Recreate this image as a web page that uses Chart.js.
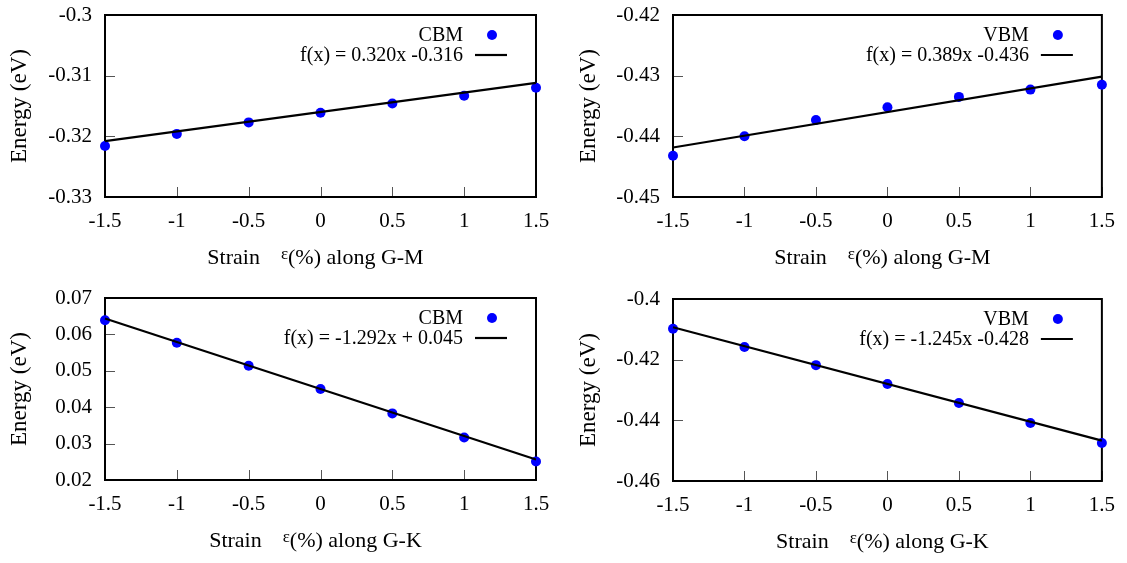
<!DOCTYPE html>
<html>
<head>
<meta charset="utf-8">
<script src="https://cdn.jsdelivr.net/npm/chart.js@4.4.1/dist/chart.umd.min.js"></script>
<style>
  html, body { margin: 0; padding: 0; background: #fff; }
  #wrap { position: relative; width: 1127px; height: 563px; overflow: hidden; }
  #wrap canvas { position: absolute; }
</style>
</head>
<body>
<div id="wrap">
  <canvas id="cbmGM"></canvas>
  <canvas id="vbmGM"></canvas>
  <canvas id="cbmGK"></canvas>
  <canvas id="vbmGK"></canvas>
</div>
<script>
// strain values (%) shared by every panel
const strain = [-1.5, -1, -0.5, 0, 0.5, 1, 1.5];
const xTicks = [-1.5, -1, -0.5, 0, 0.5, 1, 1.5];

// band edge energies (eV)
const cbmGM = [-0.3216, -0.3196, -0.3177, -0.3161, -0.3146, -0.3133, -0.3120];
const vbmGM = [-0.4432, -0.4400, -0.4373, -0.4352, -0.4335, -0.4323, -0.4315];
const cbmGK = [0.0639, 0.0577, 0.0514, 0.0450, 0.0383, 0.0317, 0.0251];
const vbmGK = [-0.4098, -0.4158, -0.4218, -0.4280, -0.4343, -0.4409, -0.4475];

// linear fits f(x) = a*x + b, x being the strain as a fraction
const fitSlopes = [0.320, 0.389, -1.292, -1.245];
const fitIntercepts = [-0.316, -0.436, 0.045, -0.428];

const yTicksCbmGM = [-0.33, -0.32, -0.31, -0.3];
const yTicksVbmGM = [-0.45, -0.44, -0.43, -0.42];
const yTicksCbmGK = [0.02, 0.03, 0.04, 0.05, 0.06, 0.07];
const yTicksVbmGK = [-0.46, -0.44, -0.42, -0.4];

// x axis titles: text before the symbol, the symbol, text after it
const xTitleGM = ['Strain', '\u03b5', '(%) along G-M'];
const xTitleGK = ['Strain', '\u03b5', '(%) along G-K'];
const yTitle = 'Energy (eV)';

const FONT = "'Liberation Serif', 'Times New Roman', serif";

function fitLabel(a, b) {
  const sign = b < 0 ? '-' + Math.abs(b).toFixed(3) : '+ ' + b.toFixed(3);
  return 'f(x) = ' + a.toFixed(3) + 'x ' + sign;
}

// frame around the plot area plus short inward ticks on left/bottom
const framePlugin = {
  id: 'frame',
  beforeDatasetsDraw(chart) {
    const { ctx, chartArea: a, scales } = chart;
    ctx.save();
    ctx.strokeStyle = '#555';
    ctx.lineWidth = 1;
    scales.y.ticks.forEach(t => {
      const py = Math.round(scales.y.getPixelForValue(t.value)) + 0.5;
      ctx.beginPath();
      ctx.moveTo(a.left, py);
      ctx.lineTo(a.left + 10, py);
      ctx.stroke();
    });
    scales.x.ticks.forEach(t => {
      const px = Math.round(scales.x.getPixelForValue(t.value)) + 0.5;
      ctx.beginPath();
      ctx.moveTo(px, a.bottom);
      ctx.lineTo(px, a.bottom - 10);
      ctx.stroke();
    });
    ctx.strokeStyle = '#000';
    ctx.lineWidth = 2;
    ctx.strokeRect(a.left, a.top, a.right - a.left, a.bottom - a.top);
    ctx.restore();
  }
};

// x title with a smaller, raised epsilon
const xTitlePlugin = {
  id: 'xTitle',
  afterDraw(chart, args, opts) {
    const { ctx, chartArea: a } = chart;
    const [pre, sym, post] = opts.parts;
    const big = '22px ' + FONT;
    const small = '17px ' + FONT;
    const gap = 21;
    ctx.save();
    ctx.fillStyle = '#000';
    ctx.textAlign = 'left';
    ctx.textBaseline = 'alphabetic';
    ctx.font = big;
    const w1 = ctx.measureText(pre).width;
    const w3 = ctx.measureText(post).width;
    ctx.font = small;
    const w2 = ctx.measureText(sym).width;
    let x = (a.left + a.right) / 2 - 5 - (w1 + gap + w2 + w3) / 2;
    const y = a.bottom + 66.5;
    ctx.font = big;
    ctx.fillText(pre, x, y);
    x += w1 + gap;
    ctx.font = small;
    ctx.fillText(sym, x, y - 5);
    x += w2;
    ctx.font = big;
    ctx.fillText(post, x, y);
    ctx.restore();
  }
};

// key in the upper right corner: text right-aligned, sample to its right
const keyPlugin = {
  id: 'key',
  afterDatasetsDraw(chart) {
    const { ctx, chartArea: a } = chart;
    const ds = chart.data.datasets;
    ctx.save();
    ctx.font = '20px ' + FONT;
    ctx.fillStyle = '#000';
    ctx.textAlign = 'right';
    ctx.textBaseline = 'middle';
    ds.forEach((d, i) => {
      const y = a.top + 20 + i * 20;
      ctx.fillText(d.label, a.right - 73, y + 1);
      if (d.showLine) {
        ctx.strokeStyle = '#000';
        ctx.lineWidth = 2.2;
        ctx.beginPath();
        ctx.moveTo(a.right - 61, y);
        ctx.lineTo(a.right - 29, y);
        ctx.stroke();
      } else {
        ctx.fillStyle = d.backgroundColor;
        ctx.beginPath();
        ctx.arc(a.right - 44, y, 5, 0, Math.PI * 2);
        ctx.fill();
        ctx.fillStyle = '#000';
      }
    });
    ctx.restore();
  }
};

function makePanel(id, box, values, name, fitIdx, yTicks, xTitle) {
  const canvas = document.getElementById(id);
  canvas.width = box.w;
  canvas.height = box.h;
  canvas.style.left = box.x + 'px';
  canvas.style.top = box.y + 'px';
  canvas.style.width = box.w + 'px';
  canvas.style.height = box.h + 'px';

  const a = fitSlopes[fitIdx];
  const b = fitIntercepts[fitIdx];
  const x0 = strain[0];
  const x1 = strain[strain.length - 1];

  new Chart(canvas, {
    type: 'scatter',
    data: {
      datasets: [
        {
          label: name,
          data: strain.map((s, i) => ({ x: s, y: values[i] })),
          backgroundColor: '#0000ff',
          borderColor: '#0000ff',
          pointRadius: 5,
          pointBorderWidth: 0,
          clip: false,
          order: 1
        },
        {
          label: fitLabel(a, b),
          data: [{ x: x0, y: a * x0 / 100 + b }, { x: x1, y: a * x1 / 100 + b }],
          showLine: true,
          borderColor: '#000',
          borderWidth: 2.2,
          pointRadius: 0,
          clip: false,
          order: 0
        }
      ]
    },
    options: {
      responsive: false,
      animation: false,
      devicePixelRatio: 1,
      layout: {
        padding: {
          top: box.plotTop - box.y,
          right: box.x + box.w - box.plotRight,
          left: 0,
          bottom: 0
        }
      },
      plugins: {
        legend: { display: false },
        tooltip: { enabled: false },
        xTitle: { parts: xTitle }
      },
      scales: {
        x: {
          type: 'linear',
          min: xTicks[0],
          max: xTicks[xTicks.length - 1],
          afterBuildTicks: axis => { axis.ticks = xTicks.map(v => ({ value: v })); },
          afterFit: axis => { axis.height = box.y + box.h - box.plotBottom; },
          grid: { display: false, drawTicks: false },
          border: { display: false },
          ticks: {
            color: '#000',
            padding: 12,
            maxRotation: 0,
            font: { family: FONT, size: 21 },
            callback: v => String(v)
          },
          title: { display: false }
        },
        y: {
          type: 'linear',
          min: yTicks[0],
          max: yTicks[yTicks.length - 1],
          afterBuildTicks: axis => { axis.ticks = yTicks.map(v => ({ value: v })); },
          afterFit: axis => { axis.width = box.plotLeft - box.x; },
          // invisible tick marks keep the labels clear of the frame
          grid: {
            display: true,
            drawOnChartArea: false,
            drawTicks: true,
            tickLength: 13,
            color: 'rgba(0,0,0,0)'
          },
          border: { display: false },
          ticks: {
            color: '#000',
            padding: 0,
            font: { family: FONT, size: 21 },
            callback: v => String(v)
          },
          title: {
            display: true,
            text: yTitle,
            color: '#000',
            font: { family: FONT, size: 23 },
            padding: { top: box.titlePadY, bottom: 0 }
          }
        }
      }
    },
    plugins: [framePlugin, keyPlugin, xTitlePlugin]
  });
}

const boxA = { x: 0, y: 0, w: 563, h: 281, plotLeft: 105, plotRight: 536, plotTop: 15, plotBottom: 197, titlePadY: 6 };
const boxB = { x: 563, y: 0, w: 564, h: 281, plotLeft: 673, plotRight: 1106, plotTop: 15, plotBottom: 197, titlePadY: 12 };
const boxC = { x: 0, y: 281, w: 563, h: 282, plotLeft: 105, plotRight: 536, plotTop: 298, plotBottom: 480, titlePadY: 6 };
const boxD = { x: 563, y: 281, w: 564, h: 282, plotLeft: 673, plotRight: 1106, plotTop: 299, plotBottom: 481, titlePadY: 12 };

makePanel('cbmGM', boxA, cbmGM, 'CBM', 0, yTicksCbmGM, xTitleGM);
makePanel('vbmGM', boxB, vbmGM, 'VBM', 1, yTicksVbmGM, xTitleGM);
makePanel('cbmGK', boxC, cbmGK, 'CBM', 2, yTicksCbmGK, xTitleGK);
makePanel('vbmGK', boxD, vbmGK, 'VBM', 3, yTicksVbmGK, xTitleGK);
</script>
</body>
</html>
